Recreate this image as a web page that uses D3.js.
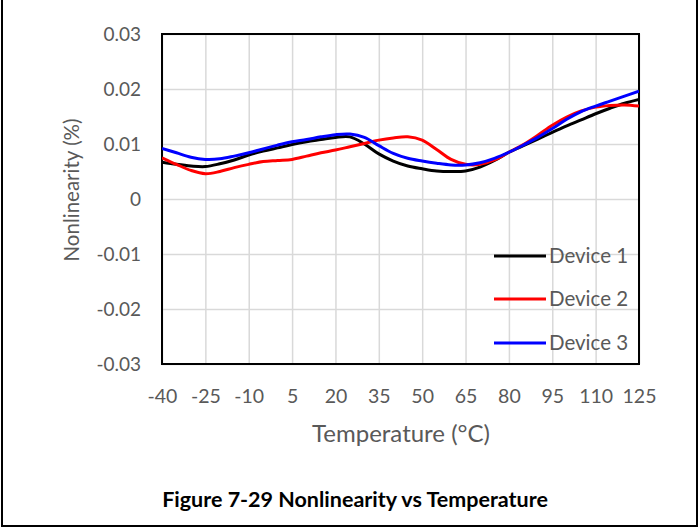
<!DOCTYPE html>
<html><head><meta charset="utf-8">
<script src="https://cdn.jsdelivr.net/npm/d3@7/dist/d3.min.js"></script>
<style>body{margin:0;background:#fff}svg{display:block}</style>
</head><body>
<svg id="c" width="700" height="528"></svg>
<script>
const temps = [-40,-35,-30,-25,-20,-15,-10,-5,0,5,10,15,20,25,30,35,40,45,50,55,60,65,70,75,80,85,90,95,100,105,110,115,120,125];
const device1 = [0.0067,0.0063,0.0060,0.0059,0.0064,0.0071,0.0080,0.0087,0.0093,0.0099,0.0104,0.0108,0.0112,0.0113,0.0100,0.0082,0.0069,0.0060,0.0055,0.0051,0.0050,0.0051,0.0058,0.0070,0.0085,0.0097,0.0109,0.0121,0.0133,0.0144,0.0155,0.0165,0.0174,0.0181];
const device2 = [0.0075,0.0063,0.0052,0.0046,0.0050,0.0057,0.0063,0.0068,0.0070,0.0072,0.0078,0.0084,0.0089,0.0095,0.0101,0.0107,0.0111,0.0113,0.0107,0.0090,0.0072,0.0063,0.0063,0.0071,0.0085,0.0099,0.0116,0.0134,0.0149,0.0160,0.0167,0.0170,0.0171,0.0169];
const device3 = [0.0092,0.0084,0.0076,0.0072,0.0073,0.0078,0.0084,0.0091,0.0098,0.0104,0.0108,0.0113,0.0117,0.0118,0.0112,0.0097,0.0083,0.0074,0.0069,0.0065,0.0062,0.0062,0.0066,0.0074,0.0085,0.0098,0.0112,0.0128,0.0145,0.0159,0.0169,0.0178,0.0187,0.0196];
const xTicks = [-40,-25,-10,5,20,35,50,65,80,95,110,125];
const yTicks = [-0.03,-0.02,-0.01,0,0.01,0.02,0.03];
const yTickLabels = ["-0.03","-0.02","-0.01","0","0.01","0.02","0.03"];
const seriesNames = ["Device 1","Device 2","Device 3"];
const seriesColors = ["#000000","#ff0000","#0000ff"];

const series = [device1, device2, device3].map((vals,i)=>({name:seriesNames[i], color:seriesColors[i], pts: temps.map((t,j)=>[t, vals[j]])}));

const svg = d3.select("#c");
const font = "Lato, 'Open Sans', sans-serif";
const grey = "#595959";
const L=162, R=639, T=34, B=364;
const x = d3.scaleLinear().domain([-40,125]).range([L,R]);
const y = d3.scaleLinear().domain([-0.03,0.03]).range([B,T]);

// outer frame
svg.append("path").attr("d","M2,0 V526 H697 V0").attr("fill","none").attr("stroke","#000").attr("stroke-width",2);

// grid
svg.append("g").attr("transform",`translate(0,${B})`)
  .call(d3.axisBottom(x).tickValues(xTicks).tickSize(-(B-T)).tickFormat(""))
  .call(g=>{g.select(".domain").remove(); g.selectAll("line").attr("stroke","#d9d9d9").attr("stroke-width",1.5);});
svg.append("g").attr("transform",`translate(${L},0)`)
  .call(d3.axisLeft(y).tickValues(yTicks).tickSize(-(R-L)).tickFormat(""))
  .call(g=>{g.select(".domain").remove(); g.selectAll("line").attr("stroke","#d9d9d9").attr("stroke-width",1.5);});

// tick labels
svg.append("g").attr("transform",`translate(0,${B+20})`)
  .call(d3.axisBottom(x).tickValues(xTicks).tickSize(0).tickPadding(0).tickFormat(d=>String(d)))
  .call(g=>{g.select(".domain").remove(); g.selectAll("text").attr("fill",grey).attr("font-family",font).attr("font-size",19.5).attr("dy","0.95em");});
svg.append("g").attr("transform",`translate(${L-21},0)`)
  .call(d3.axisLeft(y).tickValues(yTicks).tickSize(0).tickPadding(0).tickFormat((d,i)=>yTickLabels[i]))
  .call(g=>{g.select(".domain").remove(); g.selectAll("text").attr("fill",grey).attr("font-family",font).attr("font-size",19);});

// plot border
svg.append("rect").attr("x",L).attr("y",T).attr("width",R-L).attr("height",B-T).attr("fill","none").attr("stroke","#000").attr("stroke-width",2);

// lines
const line = d3.line().x(d=>x(d[0])).y(d=>y(d[1])).curve(d3.curveCatmullRom.alpha(0.5));
svg.append("clipPath").attr("id","pc").append("rect").attr("x",L).attr("y",T).attr("width",R-L).attr("height",B-T);
svg.append("g").attr("clip-path","url(#pc)").selectAll("path").data(series).join("path")
  .attr("d",d=>line(d.pts)).attr("fill","none").attr("stroke",d=>d.color).attr("stroke-width",3).attr("stroke-linejoin","round");

// legend
const legY = [256,299,343];
const lg = svg.append("g");
series.forEach((s,i)=>{
  lg.append("line").attr("x1",494).attr("x2",546).attr("y1",legY[i]).attr("y2",legY[i]).attr("stroke",s.color).attr("stroke-width",3);
  lg.append("text").attr("x",549).attr("y",legY[i]).attr("dy","0.35em").attr("fill",grey).attr("font-family",font).attr("font-size",20.5).text(s.name);
});

// axis titles
svg.append("text").attr("x",401).attr("y",442).attr("text-anchor","middle").attr("fill",grey).attr("font-family",font).attr("font-size",24).text("Temperature (°C)");
svg.append("text").attr("transform",`translate(79,190) rotate(-90)`).attr("text-anchor","middle").attr("fill",grey).attr("font-family",font).attr("font-size",20.5).text("Nonlinearity (%)");

// caption
svg.append("text").attr("x",355).attr("y",507).attr("text-anchor","middle").attr("fill","#000").attr("font-family",font).attr("font-weight","bold").attr("font-size",21.5).text("Figure 7-29 Nonlinearity vs Temperature");
</script>
</body></html>
